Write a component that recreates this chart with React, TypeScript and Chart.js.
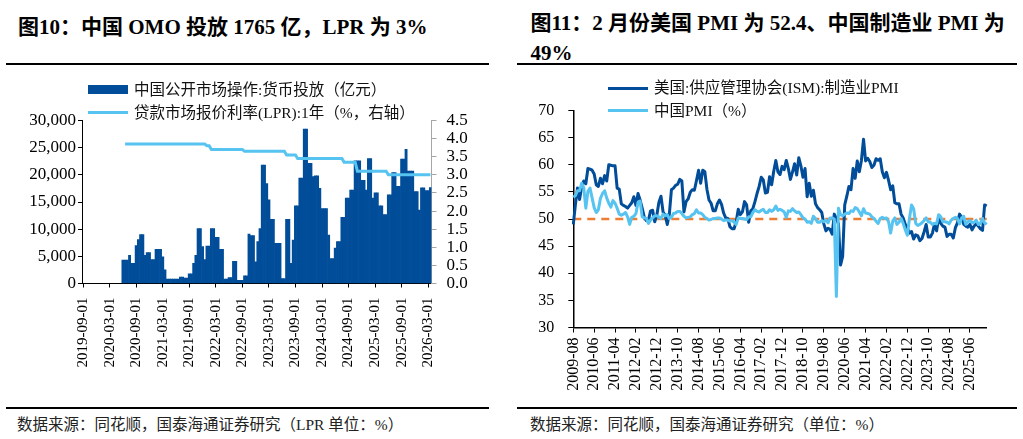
import React, { useEffect, useRef } from "react";
import { Chart, registerables } from "chart.js";

Chart.register(...registerables);

// ---------- Text ----------
const LEFT_TITLE = "图10：中国 OMO 投放 1765 亿，LPR 为 3%";
const RIGHT_TITLE_1 = "图11：2 月份美国 PMI 为 52.4、中国制造业 PMI 为";
const RIGHT_TITLE_2 = "49%";
const LEFT_SOURCE = "数据来源：同花顺，国泰海通证券研究（LPR 单位：%）";
const RIGHT_SOURCE = "数据来源：同花顺，国泰海通证券研究（单位：%）";
const OMO_LABEL = "中国公开市场操作:货币投放（亿元）";
const LPR_LABEL = "贷款市场报价利率(LPR):1年（%，右轴）";
const ISM_LABEL = "美国:供应管理协会(ISM):制造业PMI";
const CN_LABEL = "中国PMI（%）";

// ---------- Left chart: semi-monthly categories 2019-09-01 .. 2026-03-16 ----------
const LEFT_FIRST_YEAR = 2019;
const LEFT_FIRST_MONTH = 9;
const LEFT_POINTS = 158;
const LEFT_CATEGORIES: string[] = [];
for (let i = 0; i < LEFT_POINTS; i++) {
  const mIdx = LEFT_FIRST_MONTH - 1 + Math.floor(i / 2);
  const y = LEFT_FIRST_YEAR + Math.floor(mIdx / 12);
  const m = (mIdx % 12) + 1;
  LEFT_CATEGORIES.push(`${y}-${String(m).padStart(2, "0")}-${i % 2 === 0 ? "01" : "16"}`);
}
const LEFT_TICK_LABELS = [
  "2019-09-01", "2020-03-01", "2020-09-01", "2021-03-01", "2021-09-01", "2022-03-01", "2022-09-01",
  "2023-03-01", "2023-09-01", "2024-03-01", "2024-09-01", "2025-03-01", "2025-09-01", "2026-03-01",
];

// 中国公开市场操作:货币投放（亿元）
const OMO = [
  null, null, null, null, null, null, null, null, null, null, null, null,
  null, null, null, null, null, null, 4300, 4300, 4300, 5200, 3700, 3700,
  7000, 8100, 9000, 9000, 5200, 5700, 5700, 4400, 4400, 6300, 6300, 6300,
  4900, 2500, 800, 800, 800, 800, 800, 800, 1200, 1200, 1000, 1000,
  1800, 1800, 3700, 5200, 10100, 10100, 6800, 4400, 6900, 6900, 10100, 10100,
  8500, 8500, 6300, 6300, 800, 800, 1100, 1100, 4100, 4100, 600, 600,
  600, 1400, 1400, 9100, 8800, 8800, 4000, 7700, 10100, 21800, 21800, 18400,
  15400, 11800, 11800, 7400, 7400, 7400, 900, 900, 11800, 11800, 3700, 8000,
  14300, 14300, 19400, 19400, 28400, 28400, 22100, 22100, 19700, 19800, 19800, 17500,
  13800, 13800, 13800, 8900, 4600, 4600, 6500, 7700, 7700, 12200, 12200, 15700,
  15700, 17200, 17200, 22600, 22600, 22600, 19000, 19000, 17200, 23000, 23000, 15700,
  16700, 16700, 14300, 14300, 12700, 12700, 16300, 16300, 20400, 20400, 17900, 17900,
  22900, 22900, 24700, 20700, 20700, 20700, 16900, 16900, 13500, 17600, 17600, 17100,
  17100, 17650,
];

// 贷款市场报价利率(LPR):1年（%）
const LPR = [
  null, null, null, null, null, null, null, null, null, null, null, null,
  null, null, null, null, null, null, null, 3.85, 3.85, 3.85, 3.85, 3.85,
  3.85, 3.85, 3.85, 3.85, 3.85, 3.85, 3.85, 3.85, 3.85, 3.85, 3.85, 3.85,
  3.85, 3.85, 3.85, 3.85, 3.85, 3.85, 3.85, 3.85, 3.85, 3.85, 3.85, 3.85,
  3.85, 3.85, 3.85, 3.85, 3.85, 3.85, 3.85, 3.85, 3.8, 3.8, 3.7, 3.7,
  3.7, 3.7, 3.7, 3.7, 3.7, 3.7, 3.7, 3.7, 3.7, 3.7, 3.7, 3.7,
  3.7, 3.65, 3.65, 3.65, 3.65, 3.65, 3.65, 3.65, 3.65, 3.65, 3.65, 3.65,
  3.65, 3.65, 3.65, 3.65, 3.65, 3.65, 3.65, 3.65, 3.55, 3.55, 3.55, 3.55,
  3.55, 3.45, 3.45, 3.45, 3.45, 3.45, 3.45, 3.45, 3.45, 3.45, 3.45, 3.45,
  3.45, 3.45, 3.45, 3.45, 3.45, 3.45, 3.45, 3.45, 3.45, 3.45, 3.35, 3.35,
  3.35, 3.35, 3.35, 3.35, 3.1, 3.1, 3.1, 3.1, 3.1, 3.1, 3.1, 3.1,
  3.1, 3.1, 3.1, 3.1, 3.1, 3.1, 3.0, 3.0, 3.0, 3.0, 3.0, 3.0,
  3.0, 3.0, 3.0, 3.0, 3.0, 3.0, 3.0, 3.0, 3.0, 3.0, 3.0, 3.0,
  3.0, 3.0,
];

// ---------- Right chart: monthly 2009-08 .. 2026-02 ----------
const RIGHT_FIRST_YEAR = 2009;
const RIGHT_FIRST_MONTH = 8;
const RIGHT_POINTS = 199;
const RIGHT_CATEGORIES: string[] = [];
for (let i = 0; i < RIGHT_POINTS; i++) {
  const mIdx = RIGHT_FIRST_MONTH - 1 + i;
  const y = RIGHT_FIRST_YEAR + Math.floor(mIdx / 12);
  const m = (mIdx % 12) + 1;
  RIGHT_CATEGORIES.push(`${y}-${String(m).padStart(2, "0")}`);
}
const RIGHT_TICK_LABELS = [
  "2009-08", "2010-06", "2011-04", "2012-02", "2012-12", "2013-10", "2014-08", "2015-06", "2016-04", "2017-02",
  "2017-12", "2018-10", "2019-08", "2020-06", "2021-04", "2022-02", "2022-12", "2023-10", "2024-08", "2025-06",
];

// 美国:供应管理协会(ISM):制造业PMI
const ISM = [
  49.0, 52.6, 55.7, 53.6, 55.9,
  57.0, 56.5, 59.3, 59.2, 59.0, 58.3, 56.3, 56.0, 57.5, 56.5, 58.0, 57.0,
  60.0, 59.9, 59.8, 59.8, 55.7, 55.5, 52.8, 52.5, 52.3, 52.0, 52.5, 53.0,
  54.1, 52.5, 54.7, 53.5, 52.0, 50.3, 49.7, 49.8, 51.5, 51.6, 49.5, 50.7,
  53.1, 54.2, 51.3, 50.7, 49.0, 50.9, 55.4, 55.7, 56.2, 56.4, 57.3, 57.0,
  51.3, 53.2, 53.7, 54.9, 55.4, 55.3, 57.1, 59.0, 56.6, 59.0, 58.7, 55.5,
  53.5, 52.9, 51.5, 51.5, 52.8, 53.5, 52.7, 51.1, 50.2, 50.1, 48.6, 48.2,
  48.2, 49.5, 51.8, 50.8, 51.3, 53.2, 52.6, 49.4, 51.5, 51.9, 53.2, 54.7,
  56.0, 57.7, 57.2, 54.8, 54.9, 57.8, 56.3, 58.8, 60.8, 58.7, 58.2, 59.7,
  59.1, 60.8, 59.3, 57.3, 58.7, 60.2, 58.1, 61.3, 59.8, 57.7, 59.3, 54.1,
  56.6, 54.2, 55.3, 52.8, 52.1, 51.7, 51.2, 49.1, 47.8, 48.3, 48.1, 47.2,
  50.9, 50.1, 49.1, 41.5, 43.1, 52.6, 54.2, 56.0, 55.4, 59.3, 57.5, 60.7,
  58.7, 60.8, 64.7, 60.7, 61.2, 60.6, 59.5, 59.9, 61.1, 60.8, 61.1, 58.7,
  57.6, 58.6, 57.1, 55.4, 56.1, 53.0, 52.8, 52.8, 50.9, 50.2, 49.0, 48.4,
  47.4, 47.7, 46.3, 47.1, 46.9, 46.0, 46.4, 47.6, 49.0, 46.7, 46.7, 47.4,
  49.1, 47.8, 50.3, 49.2, 48.7, 48.5, 46.8, 47.2, 47.2, 46.5, 48.4, 49.3,
  50.9, 50.3, 49.0, 48.7, 48.5, 49.0, 48.0, 48.7, 49.1, 48.7, 48.2, 47.9,
  52.6, 52.4,
];

// 中国PMI（%）
const CHINA_PMI = [
  54.0, 54.3, 55.2, 55.2, 56.6,
  55.8, 52.0, 55.1, 55.7, 53.9, 52.1, 51.2, 51.7, 53.8, 54.7, 55.2, 53.9,
  52.9, 52.2, 53.4, 52.9, 52.0, 50.9, 50.7, 50.9, 51.2, 50.4, 49.0, 50.3,
  50.5, 51.0, 53.1, 53.3, 50.4, 50.2, 50.1, 49.2, 49.8, 50.2, 50.6, 50.6,
  50.4, 50.1, 50.9, 50.6, 50.8, 50.1, 50.3, 51.0, 51.1, 51.4, 51.4, 51.0,
  50.5, 50.2, 50.3, 50.4, 50.8, 51.0, 51.7, 51.1, 51.1, 50.8, 50.3, 50.1,
  49.8, 49.9, 50.1, 50.1, 50.2, 50.2, 50.0, 49.7, 49.8, 49.8, 49.6, 49.7,
  49.4, 49.0, 50.2, 50.1, 50.1, 50.0, 49.9, 50.4, 50.4, 51.2, 51.7, 51.4,
  51.3, 51.6, 51.8, 51.2, 51.2, 51.7, 51.4, 51.7, 52.4, 51.6, 51.8, 51.6,
  51.3, 50.3, 51.5, 51.4, 51.9, 51.5, 51.2, 51.3, 50.8, 50.2, 50.0, 49.4,
  49.5, 49.2, 50.5, 50.1, 49.4, 49.4, 49.7, 49.5, 49.8, 49.3, 50.2, 50.2,
  50.0, 35.7, 52.0, 50.8, 50.6, 50.9, 51.1, 51.0, 51.5, 51.4, 52.1, 51.9,
  51.3, 50.6, 51.9, 51.1, 51.0, 50.9, 50.4, 50.1, 49.6, 49.2, 50.1, 50.3,
  50.1, 50.2, 49.5, 47.4, 49.6, 50.2, 49.0, 49.4, 50.1, 49.2, 48.0, 47.0,
  50.1, 52.6, 51.9, 49.2, 48.8, 49.0, 49.3, 49.7, 50.2, 49.5, 49.4, 49.0,
  49.2, 49.1, 50.8, 50.4, 49.5, 49.5, 49.4, 49.1, 49.8, 50.1, 50.3, 50.1,
  49.1, 50.2, 50.5, 49.0, 49.5, 49.7, 49.3, 49.4, 49.8, 49.0, 49.2, 50.1,
  49.3, 49.0,
];
const REF_LEVEL = 50;

// ---------- Styles ----------
const DARK = "#014D99";
const LIGHT = "#56C3F0";
const ORANGE = "#EE7D31";
const TICK_FONT = '"Liberation Serif", "Times New Roman", serif';
const MIX_FONT = '"Liberation Serif", "Noto Sans CJK SC", serif';

function LeftChart() {
  const ref = useRef<HTMLCanvasElement>(null);
  useEffect(() => {
    const W = 495;
    const H = 335;
    const chart = new Chart(ref.current!, {
      type: "bar",
      data: {
        labels: LEFT_CATEGORIES,
        datasets: [
          {
            type: "line",
            label: LPR_LABEL,
            data: LPR,
            yAxisID: "y1",
            borderColor: LIGHT,
            borderWidth: 3,
            pointRadius: 0,
            tension: 0,
            order: 0,
          } as any,
          {
            type: "bar",
            label: OMO_LABEL,
            data: OMO,
            yAxisID: "y",
            backgroundColor: DARK,
            borderWidth: 0,
            barPercentage: 1,
            categoryPercentage: 1,
            order: 1,
          } as any,
        ],
      },
      options: {
        responsive: false,
        animation: false,
        devicePixelRatio: 1,
        layout: { padding: { top: 50.5, left: 0, right: 0, bottom: 0 } },
        plugins: { legend: { display: false }, tooltip: { enabled: false } },
        scales: {
          x: {
            offset: true,
            grid: { offset: false, drawOnChartArea: false, drawTicks: true, tickLength: 4, color: "#000", lineWidth: 1 },
            border: { display: true, color: "#000", width: 1 },
            ticks: {
              autoSkip: false,
              minRotation: 90,
              maxRotation: 90,
              padding: 10,
              color: "#000",
              font: { family: TICK_FONT, size: 15 },
              callback: (_v: any, i: number) => {
                const lab = LEFT_CATEGORIES[i];
                return LEFT_TICK_LABELS.includes(lab) ? lab : null;
              },
            },
            afterFit: (s: any) => {
              s.height = H - 213.5;
            },
          },
          y: {
            position: "left",
            min: 0,
            max: 30000,
            grid: { drawOnChartArea: false, drawTicks: true, tickLength: 4, color: "#000" },
            border: { display: true, color: "#000", width: 1 },
            ticks: {
              stepSize: 5000,
              autoSkip: false,
              padding: 2,
              color: "#000",
              font: { family: TICK_FONT, size: 17 },
              callback: (v: any) => Number(v).toLocaleString("en-US"),
            },
            afterFit: (s: any) => {
              s.width = 82;
            },
          },
          y1: {
            position: "right",
            min: 0,
            max: 4.5,
            grid: { drawOnChartArea: false, drawTicks: true, tickLength: 5, color: "#A6A6A6" },
            border: { display: true, color: "#A6A6A6", width: 1 },
            ticks: {
              stepSize: 0.5,
              autoSkip: false,
              padding: 10,
              color: "#000",
              font: { family: TICK_FONT, size: 17 },
              callback: (v: any) => Number(v).toFixed(1),
            },
            afterFit: (s: any) => {
              s.width = W - 431.5;
            },
          },
        },
      } as any,
    });
    return () => chart.destroy();
  }, []);
  return (
    <canvas
      ref={ref}
      width={495}
      height={335}
      style={{ position: "absolute", left: 0, top: 70, width: 495, height: 335 }}
    />
  );
}

function RightChart() {
  const ref = useRef<HTMLCanvasElement>(null);
  useEffect(() => {
    const W = 513;
    const H = 335;
    const chart = new Chart(ref.current!, {
      type: "line",
      data: {
        labels: RIGHT_CATEGORIES,
        datasets: [
          {
            label: CN_LABEL,
            data: CHINA_PMI,
            borderColor: LIGHT,
            borderWidth: 3,
            pointRadius: 0,
            tension: 0,
            borderJoinStyle: "round",
            order: 0,
          },
          {
            label: ISM_LABEL,
            data: ISM,
            borderColor: DARK,
            borderWidth: 3,
            pointRadius: 0,
            tension: 0,
            borderJoinStyle: "round",
            order: 1,
          },
          {
            label: "50",
            data: RIGHT_CATEGORIES.map(() => REF_LEVEL),
            borderColor: ORANGE,
            borderWidth: 2.5,
            borderDash: [8, 6],
            pointRadius: 0,
            order: 2,
          },
        ],
      },
      options: {
        responsive: false,
        animation: false,
        devicePixelRatio: 1,
        layout: { padding: { top: 40.5, left: 0, right: W - 476.7, bottom: 0 } },
        plugins: { legend: { display: false }, tooltip: { enabled: false } },
        scales: {
          x: {
            offset: false,
            grid: { offset: false, drawOnChartArea: false, drawTicks: true, tickLength: 5, color: "#000" },
            border: { display: true, color: "#000", width: 1.5 },
            ticks: {
              autoSkip: false,
              minRotation: 90,
              maxRotation: 90,
              padding: 5,
              color: "#000",
              font: { family: TICK_FONT, size: 16 },
              callback: (_v: any, i: number) => {
                const lab = RIGHT_CATEGORIES[i];
                return RIGHT_TICK_LABELS.includes(lab) ? lab : null;
              },
            },
            afterFit: (s: any) => {
              s.height = H - 257.5;
            },
          },
          y: {
            min: 30,
            max: 70,
            grid: { drawOnChartArea: false, drawTicks: true, tickLength: 5, color: "#000" },
            border: { display: true, color: "#000", width: 1.5 },
            ticks: {
              stepSize: 5,
              autoSkip: false,
              padding: 14,
              color: "#000",
              font: { family: TICK_FONT, size: 16 },
            },
            afterFit: (s: any) => {
              s.width = 63.3;
            },
          },
        },
      } as any,
    });
    return () => chart.destroy();
  }, []);
  return (
    <canvas
      ref={ref}
      width={513}
      height={335}
      style={{ position: "absolute", left: 510, top: 70, width: 513, height: 335 }}
    />
  );
}

const abs = (s: React.CSSProperties): React.CSSProperties => ({ position: "absolute", ...s });

function LegendText({ left, cy, text }: { left: number; cy: number; text: string }) {
  return (
    <div
      style={abs({
        left,
        top: cy - 11,
        height: 22,
        lineHeight: "22px",
        fontFamily: MIX_FONT,
        fontSize: 15.5,
        color: "#111",
        whiteSpace: "nowrap",
      })}
    >
      {text}
    </div>
  );
}

export default function App() {
  return (
    <div
      style={abs({
        left: 0,
        top: 0,
        width: 1023,
        height: 439,
        background: "#fff",
        overflow: "hidden",
      })}
    >
      {/* Titles */}
      <div
        style={abs({
          left: 18,
          top: 12,
          lineHeight: "30px",
          fontFamily: MIX_FONT,
          fontWeight: 700,
          fontSize: 21,
          color: "#000",
          whiteSpace: "nowrap",
        })}
      >
        {LEFT_TITLE}
      </div>
      <div
        style={abs({
          left: 530.5,
          top: 8,
          lineHeight: "30px",
          fontFamily: MIX_FONT,
          fontWeight: 700,
          fontSize: 21,
          color: "#000",
          whiteSpace: "nowrap",
        })}
      >
        {RIGHT_TITLE_1}
        <br />
        {RIGHT_TITLE_2}
      </div>

      {/* Rules */}
      <div style={abs({ left: 6, top: 63, width: 483, height: 2, background: "#000" })} />
      <div style={abs({ left: 517, top: 63, width: 500, height: 2, background: "#000" })} />
      <div style={abs({ left: 6, top: 407, width: 483, height: 2, background: "#000" })} />
      <div style={abs({ left: 517, top: 407, width: 500, height: 2, background: "#000" })} />

      {/* Charts */}
      <LeftChart />
      <RightChart />

      {/* Left legend */}
      <div style={abs({ left: 88, top: 85, width: 40, height: 9, background: DARK })} />
      <LegendText left={134} cy={89.5} text={OMO_LABEL} />
      <div style={abs({ left: 88, top: 111, width: 40, height: 3, background: LIGHT })} />
      <LegendText left={134} cy={112.5} text={LPR_LABEL} />

      {/* Right legend */}
      <div style={abs({ left: 608, top: 86.5, width: 40, height: 3, background: DARK })} />
      <LegendText left={654} cy={88} text={ISM_LABEL} />
      <div style={abs({ left: 608, top: 109, width: 40, height: 3, background: LIGHT })} />
      <LegendText left={654} cy={110.5} text={CN_LABEL} />

      {/* Sources */}
      <div
        style={abs({
          left: 17,
          top: 414,
          lineHeight: "22px",
          fontFamily: MIX_FONT,
          fontSize: 15.5,
          color: "#222",
          whiteSpace: "nowrap",
        })}
      >
        {LEFT_SOURCE}
      </div>
      <div
        style={abs({
          left: 530,
          top: 414,
          lineHeight: "22px",
          fontFamily: MIX_FONT,
          fontSize: 15.5,
          color: "#222",
          whiteSpace: "nowrap",
        })}
      >
        {RIGHT_SOURCE}
      </div>
    </div>
  );
}
